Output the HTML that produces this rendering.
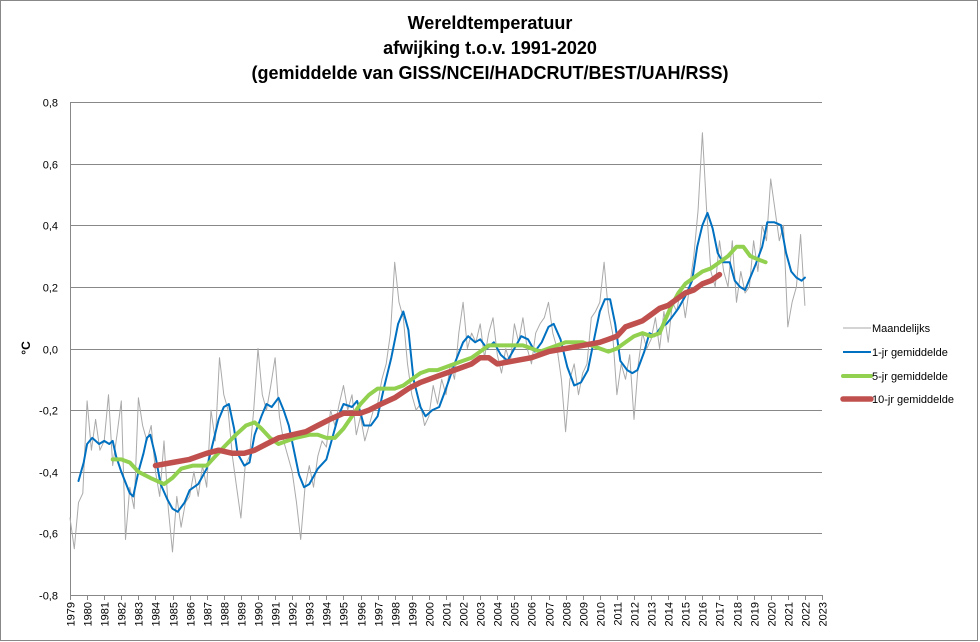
<!DOCTYPE html>
<html><head><meta charset="utf-8"><style>
body{margin:0;background:#fff;font-family:"Liberation Sans",sans-serif}
svg{display:block}
</style></head><body>
<svg id="chart" width="980" height="642" viewBox="0 0 980 642" xmlns="http://www.w3.org/2000/svg">
<rect x="0.5" y="0.5" width="977" height="640" fill="#fff" stroke="#888"/>
<g font-weight="bold" font-size="18" text-anchor="middle" fill="#000">
<text x="490" y="29">Wereldtemperatuur</text>
<text x="490" y="54">afwijking t.o.v. 1991-2020</text>
<text x="490" y="79">(gemiddelde van GISS/NCEI/HADCRUT/BEST/UAH/RSS)</text>
</g>
<g id="grid"></g>
<g id="yticks" font-size="11" text-anchor="end" fill="#000"></g>
<text x="30" y="348" font-size="12" font-weight="bold" transform="rotate(-90 30 348)" text-anchor="middle">°C</text>
<g id="xticks" font-size="11" fill="#000"></g>
<g id="series"></g>
<g font-size="11" fill="#000">
<g><line x1="843" y1="328" x2="871" y2="328" stroke="#aaa" stroke-width="1"/><text x="872" y="332">Maandelijks</text></g>
<g><line x1="843" y1="352" x2="871" y2="352" stroke="#0070c0" stroke-width="2"/><text x="872" y="356">1-jr gemiddelde</text></g>
<g><line x1="843" y1="376" x2="871" y2="376" stroke="#92d050" stroke-width="4" stroke-linecap="round"/><text x="872" y="380">5-jr gemiddelde</text></g>
<g><line x1="843" y1="399" x2="871" y2="399" stroke="#c0504d" stroke-width="5.5" stroke-linecap="round"/><text x="872" y="403">10-jr gemiddelde</text></g>
</g>
</svg>
<script>
const yTicks=[0.8,0.6,0.4,0.2,0.0,-0.2,-0.4,-0.6,-0.8];
const yTickLabels=["0,8","0,6","0,4","0,2","0,0","-0,2","-0,4","-0,6","-0,8"];
const xYears=[1979,1980,1981,1982,1983,1984,1985,1986,1987,1988,1989,1990,1991,1992,1993,1994,1995,1996,1997,1998,1999,2000,2001,2002,2003,2004,2005,2006,2007,2008,2009,2010,2011,2012,2013,2014,2015,2016,2017,2018,2019,2020,2021,2022,2023];
const monthlyStart=1979.0;
const monthlyStep=0.25;
const monthlyValues=[-0.55,-0.65,-0.50,-0.47,-0.17,-0.33,-0.23,-0.33,-0.30,-0.15,-0.38,-0.28,-0.17,-0.62,-0.45,-0.52,-0.16,-0.25,-0.30,-0.25,-0.40,-0.48,-0.30,-0.52,-0.66,-0.48,-0.58,-0.50,-0.48,-0.40,-0.48,-0.38,-0.45,-0.20,-0.30,-0.03,-0.15,-0.20,-0.35,-0.45,-0.55,-0.38,-0.35,-0.20,0.00,-0.15,-0.20,-0.12,-0.03,-0.22,-0.30,-0.35,-0.40,-0.50,-0.62,-0.45,-0.38,-0.45,-0.35,-0.30,-0.32,-0.20,-0.25,-0.18,-0.12,-0.20,-0.15,-0.28,-0.22,-0.30,-0.25,-0.20,-0.18,-0.10,-0.05,0.05,0.28,0.15,0.10,-0.05,-0.15,-0.20,-0.18,-0.25,-0.22,-0.12,-0.18,-0.10,-0.15,-0.05,-0.10,0.05,0.15,0.00,0.05,0.02,0.08,-0.03,0.05,0.10,-0.02,-0.08,0.00,-0.05,0.08,0.02,0.10,0.00,-0.05,0.05,0.08,0.10,0.15,0.05,0.00,-0.10,-0.27,-0.10,-0.05,-0.15,-0.08,-0.05,0.10,0.12,0.15,0.28,0.12,0.05,-0.15,-0.05,-0.10,-0.02,-0.23,-0.05,0.05,0.00,0.03,0.10,0.00,0.12,0.02,0.15,0.12,0.20,0.10,0.20,0.30,0.45,0.70,0.45,0.25,0.20,0.35,0.25,0.20,0.35,0.15,0.25,0.18,0.20,0.35,0.25,0.40,0.35,0.55,0.45,0.35,0.40,0.07,0.15,0.20,0.37,0.14];
const oneYrX=[1979.5,1979.8,1980.0,1980.3,1980.7,1981.0,1981.3,1981.5,1981.7,1982.0,1982.5,1982.7,1983.0,1983.3,1983.5,1983.7,1984.0,1984.3,1984.7,1985.0,1985.3,1985.7,1986.0,1986.5,1987.0,1987.3,1987.7,1988.0,1988.3,1988.6,1988.8,1989.2,1989.5,1989.8,1990.2,1990.5,1990.8,1991.2,1991.5,1991.8,1992.1,1992.4,1992.7,1993.0,1993.5,1994.0,1994.3,1994.7,1995.0,1995.5,1995.8,1996.2,1996.6,1997.0,1997.4,1997.8,1998.2,1998.5,1998.8,1999.1,1999.5,1999.8,2000.2,2000.6,2001.0,2001.5,2002.0,2002.3,2002.7,2003.0,2003.4,2003.8,2004.2,2004.6,2005.0,2005.4,2005.8,2006.2,2006.6,2007.0,2007.3,2007.7,2008.1,2008.5,2008.9,2009.3,2009.7,2010.0,2010.3,2010.6,2010.9,2011.2,2011.6,2011.9,2012.2,2012.6,2012.9,2013.2,2013.6,2013.9,2014.2,2014.6,2015.0,2015.4,2015.7,2016.0,2016.3,2016.6,2016.9,2017.2,2017.6,2017.9,2018.2,2018.5,2018.8,2019.1,2019.5,2019.8,2020.2,2020.6,2020.9,2021.2,2021.5,2021.8,2022.0];
const oneYrV=[-0.43,-0.37,-0.31,-0.29,-0.31,-0.30,-0.31,-0.30,-0.35,-0.40,-0.47,-0.48,-0.40,-0.34,-0.29,-0.28,-0.35,-0.44,-0.49,-0.52,-0.53,-0.50,-0.46,-0.44,-0.39,-0.32,-0.23,-0.19,-0.18,-0.26,-0.34,-0.38,-0.37,-0.28,-0.22,-0.18,-0.19,-0.16,-0.20,-0.25,-0.33,-0.41,-0.45,-0.44,-0.39,-0.36,-0.30,-0.22,-0.18,-0.19,-0.17,-0.25,-0.25,-0.22,-0.12,-0.03,0.08,0.12,0.06,-0.10,-0.19,-0.22,-0.20,-0.19,-0.13,-0.05,0.02,0.04,0.02,0.03,0.00,0.02,-0.02,-0.04,0.00,0.04,0.03,-0.01,0.02,0.07,0.08,0.03,-0.06,-0.12,-0.11,-0.07,0.04,0.12,0.16,0.16,0.08,-0.04,-0.07,-0.08,-0.07,-0.01,0.05,0.04,0.07,0.08,0.10,0.13,0.17,0.22,0.33,0.40,0.44,0.39,0.31,0.28,0.28,0.22,0.20,0.19,0.23,0.27,0.33,0.41,0.41,0.40,0.31,0.25,0.23,0.22,0.23];
const fiveYrX=[1981.5,1982.0,1982.5,1983.0,1983.7,1984.5,1985.0,1985.5,1986.2,1987.0,1987.5,1988.0,1988.7,1989.3,1989.8,1990.2,1990.7,1991.2,1991.7,1992.2,1993.0,1993.5,1994.0,1994.5,1995.0,1995.5,1996.0,1996.5,1997.0,1997.5,1998.0,1998.5,1999.0,1999.5,2000.0,2000.5,2001.0,2001.5,2002.0,2002.5,2003.0,2003.5,2004.0,2004.5,2005.0,2005.5,2006.0,2006.5,2007.0,2007.5,2008.0,2008.5,2009.0,2009.5,2010.0,2010.5,2011.0,2011.5,2012.0,2012.5,2013.0,2013.5,2013.8,2014.2,2014.6,2015.0,2015.5,2016.0,2016.5,2017.0,2017.5,2018.0,2018.4,2018.8,2019.2,2019.7];
const fiveYrV=[-0.36,-0.36,-0.37,-0.40,-0.42,-0.44,-0.42,-0.39,-0.38,-0.38,-0.35,-0.32,-0.28,-0.25,-0.24,-0.26,-0.29,-0.31,-0.30,-0.29,-0.28,-0.28,-0.29,-0.29,-0.26,-0.22,-0.18,-0.15,-0.13,-0.13,-0.13,-0.12,-0.10,-0.08,-0.07,-0.07,-0.06,-0.05,-0.04,-0.03,-0.01,0.01,0.01,0.01,0.01,0.01,0.00,-0.01,0.00,0.01,0.02,0.02,0.02,0.01,0.00,-0.01,0.00,0.02,0.04,0.05,0.04,0.05,0.09,0.14,0.18,0.21,0.23,0.25,0.26,0.28,0.30,0.33,0.33,0.30,0.29,0.28];
const tenYrX=[1984.0,1985.0,1986.0,1987.0,1987.7,1988.5,1989.2,1989.8,1990.5,1991.2,1992.0,1992.8,1993.5,1994.2,1995.0,1996.0,1996.5,1997.2,1998.0,1998.8,1999.5,2000.5,2001.5,2002.5,2003.0,2003.5,2004.0,2005.0,2006.0,2007.0,2008.0,2009.0,2010.0,2010.5,2011.0,2011.5,2012.0,2012.5,2013.0,2013.5,2014.0,2014.5,2015.0,2015.5,2016.0,2016.5,2017.0];
const tenYrV=[-0.38,-0.37,-0.36,-0.34,-0.33,-0.34,-0.34,-0.33,-0.31,-0.29,-0.28,-0.27,-0.25,-0.23,-0.21,-0.21,-0.20,-0.18,-0.16,-0.13,-0.11,-0.09,-0.07,-0.05,-0.03,-0.03,-0.05,-0.04,-0.03,-0.01,0.00,0.01,0.02,0.03,0.04,0.07,0.08,0.09,0.11,0.13,0.14,0.16,0.18,0.19,0.21,0.22,0.24];

const X0=70,X1=822,Y0=595,Y1=102;
const xMin=1979,xMax=2023,vMin=-0.8,vMax=0.8;
function sx(t){return X0+(t-xMin)/(xMax-xMin)*(X1-X0);}
function sy(v){return Y0-(v-vMin)/(vMax-vMin)*(Y0-Y1);}
const NS="http://www.w3.org/2000/svg";
function mk(tag,attrs,parent){const e=document.createElementNS(NS,tag);for(const k in attrs)e.setAttribute(k,attrs[k]);parent.appendChild(e);return e;}
const grid=document.getElementById('grid'),yt=document.getElementById('yticks'),xt=document.getElementById('xticks'),ser=document.getElementById('series');
yTicks.forEach((v,i)=>{
  const y=Math.round(sy(v))+0.5;
  const l=mk('line',{x1:X0,x2:X1,y1:y,y2:y,stroke:'#888','stroke-width':1},grid);
  
  
  const t=mk('text',{x:X0-12,y:y+4},yt);
  t.textContent=yTickLabels[i];
  
  
});
const ax=mk('line',{x1:X0+0.5,x2:X0+0.5,y1:Y1,y2:Y0,stroke:'#888'},grid);


xYears.forEach(yr=>{
  const x=Math.round(sx(yr))+0.5;
  const tk=mk('line',{x1:x,x2:x,y1:Y0,y2:Y0+5,stroke:'#888'},xt);
  
  
  const t=mk('text',{x:0,y:0,'text-anchor':'end',transform:`translate(${x+4},${Y0+7}) rotate(-90)`},xt);
  t.textContent=yr;
  
  
});
function line(xs,vs,color,w,name){
  const d=xs.map((x,i)=>(i?'L':'M')+sx(x).toFixed(1)+' '+sy(vs[i]).toFixed(1)).join(' ');
  const p=mk('path',{d:d,fill:'none',stroke:color,'stroke-width':w,'stroke-linejoin':'round','stroke-linecap':'round'},ser);
  
  
}
const mX=monthlyValues.map((v,i)=>monthlyStart+i*monthlyStep);
line(mX,monthlyValues,'#aaa',1,'monthly-line');
line(oneYrX,oneYrV,'#0070c0',2,'1yr-average-line');
line(fiveYrX,fiveYrV,'#92d050',4,'5yr-average-line');
line(tenYrX,tenYrV,'#c0504d',5.5,'10yr-average-line');
</script>
</body></html>
